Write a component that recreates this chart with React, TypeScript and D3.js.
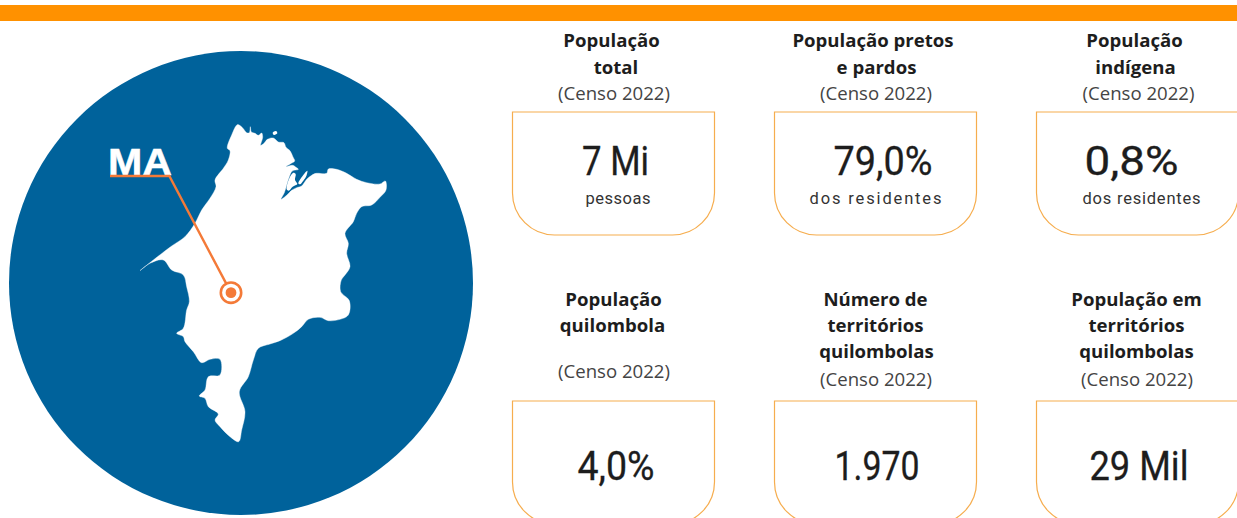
import React from "react";
import * as d3 from "d3";

const W = 1237, H = 518;
const cardTitles = [
  ["População", "total"],
  ["População pretos", "e pardos"],
  ["População", "indígena"],
  ["População", "quilombola"],
  ["Número de", "territórios", "quilombolas"],
  ["População em", "territórios", "quilombolas"],
];
const cardSource = "(Censo 2022)";
const cardValues = ["7 Mi", "79,0%", "0,8%", "4,0%", "1.970", "29 Mil"];
const cardUnits = ["pessoas", "dos residentes", "dos residentes", "", "", ""];
const stateLabel = "MA";

// horizontal nudges of each text line against the card centre
const titleNudge = [[-3, 1.5], [-3.5, 0], [-4, -3], [-1, -2], [-1, -1, 0], [-2, -2, -2]];
const sourceNudge = [-0.5, -0.5, 0, -0.5, -0.5, -1.5];
const valueNudge = [1, 6.5, -7, 1.5, 0.5, 0.5];
const unitNudge = [3.5, -1, 3, 0, 0, 0];
const valueWidths = [67, 99, 94, 77, 85, 99];
const unitWidths = [65, 132, 118, 0, 0, 0];

// Outline of the state in tracing units (0..810 wide, 0..1020 high)
const stateOutline: [number, number][] = [
  [322,44],[332,48],[340,56],[350,68],[358,68],[361,50],[364,66],[375,70],[385,76],[395,69],[398,82],[392,106],[402,100],[412,88],[430,84],[445,96],[462,98],[468,112],[480,122],[489,141],[494,153],[484,160],[468,170],[488,166],[498,172],[505,178],[487,183],[478,200],[470,225],[463,248],[453,268],[470,256],[485,241],[500,233],[515,228],[530,208],[545,196],[558,190],[590,190],[595,177],[620,178],[650,190],[680,208],[710,218],[750,222],[766,213],[768,240],[750,262],[725,285],[695,290],[680,310],[670,335],[645,370],[655,400],[650,430],[660,470],[645,495],[634,510],[632,545],[658,572],[655,615],[630,628],[595,632],[570,622],[535,628],[515,650],[490,670],[450,692],[420,702],[385,715],[370,750],[355,800],[328,845],[345,905],[335,960],[326,995],[300,980],[270,950],[255,930],[265,912],[235,890],[225,865],[208,858],[225,840],[235,800],[270,795],[270,748],[240,748],[215,758],[190,725],[165,695],[160,680],[140,670],[160,655],[170,600],[178,575],[170,530],[160,495],[125,480],[100,450],[60,460],[30,482],[70,450],[125,408],[165,380],[195,340],[215,300],[240,265],[258,230],[255,210],[280,175],[295,150],[300,122],[292,115],[305,75],
];
const bayIslands: [number, number][][] = [
  [[470,238],[478,205],[490,188],[497,192],[495,210],[502,222],[488,230],[476,242]],
  [[505,220],[516,200],[532,182],[529,198],[520,212],[510,223]],
  [[428,68],[438,63],[442,70],[432,75]],
];
// Where the marker sits, in the same tracing units
const markerPoint: [number, number] = [303, 548];
const labelElbow: [number, number] = [118, 198];
const labelStart: [number, number] = [-60, 198];

const x = d3.scaleLinear().domain([0, 810]).range([130, 400]);
const y = d3.scaleLinear().domain([0, 1020]).range([110, 450]);
const line = d3.line<[number, number]>().x((d) => x(d[0])).y((d) => y(d[1]));
const smooth = d3.line<[number, number]>().x((d) => x(d[0])).y((d) => y(d[1])).curve(d3.curveCatmullRomClosed.alpha(0.5));

const col = d3.scaleOrdinal<number, number>().domain([0, 1, 2]).range([512.5, 774.5, 1036.5]);
const CARD_W = 202, CARD_H = 123, R = 42;
const rowBoxTop = [112, 401];
const rowTitleBase = [[47, 74], [306, 332, 358]];
const rowSourceBase = [[100, 100, 100], [378, 386, 386]];
const rowValueBase = [175, 480];
const rowUnitBase = 204;

const cardPath = (px: number, py: number) => {
  const p = d3.path();
  p.moveTo(px, py);
  p.lineTo(px + CARD_W, py);
  p.lineTo(px + CARD_W, py + CARD_H - R);
  p.arcTo(px + CARD_W, py + CARD_H, px + CARD_W - R, py + CARD_H, R);
  p.lineTo(px + R, py + CARD_H);
  p.arcTo(px, py + CARD_H, px, py + CARD_H - R, R);
  p.closePath();
  return p.toString();
};

const BLUE = "#00629b", ORANGE = "#ff9100", ACCENT = "#f47a38", INK = "#1d1d1d";
const SANS = "'Open Sans','Noto Sans',sans-serif";
const DIN = "Roboto,'Noto Sans',sans-serif";

export default function App() {
  const mx = x(markerPoint[0]), my = y(markerPoint[1]);
  return (
    <svg width={W} height={H} viewBox={`0 0 ${W} ${H}`}
      style={{ position: "fixed", left: 0, top: 0, background: "#fff", display: "block" }}>
      <rect x={0} y={5} width={W} height={16} fill={ORANGE} />
      <circle cx={241} cy={283} r={232} fill={BLUE} />
      <path d={smooth(stateOutline)!} fill="#fff" stroke="#fff" strokeWidth={0.4} strokeLinejoin="round" />
      {bayIslands.map((isle, i) => (
        <path key={i} d={smooth(isle)!} fill="#fff" />
      ))}
      <text x={108} y={174.5} fontFamily="Liberation Sans, Arial, sans-serif" fontWeight={700} fontSize={37}
        textLength={64} lengthAdjust="spacingAndGlyphs" fill="#fff" stroke="#fff" strokeWidth={0.5}>{stateLabel}</text>
      <path d={line([labelStart, labelElbow, markerPoint])!} fill="none" stroke={ACCENT} strokeWidth={2.4} />
      <circle cx={mx} cy={my} r={10.2} fill="#fff" stroke={ACCENT} strokeWidth={2.6} />
      <circle cx={mx} cy={my} r={5.4} fill={ACCENT} />
      {cardValues.map((v, i) => {
        const c = i % 3, r = Math.floor(i / 3);
        const left = col(c), cx = left + CARD_W / 2 + 1;
        const title = cardTitles[i];
        return (
          <g key={i} textAnchor="middle">
            <path d={cardPath(left, rowBoxTop[r])} fill="#fff" stroke="#f6ad4e" strokeWidth={1.2} />
            {title.map((t, j) => (
              <text key={j} x={cx + titleNudge[i][j]} y={rowTitleBase[r][j]}
                fontFamily={SANS} fontWeight={700} fontSize={18.6} fill={INK}>{t}</text>
            ))}
            <text x={cx + sourceNudge[i]} y={rowSourceBase[r][c]} fontFamily={SANS} fontSize={18.6} fill="#444">{cardSource}</text>
            <text x={cx + valueNudge[i]} y={rowValueBase[r]} fontFamily={DIN} fontWeight={400} fontSize={40}
              textLength={valueWidths[i]} lengthAdjust="spacingAndGlyphs" fill={INK} stroke={INK} strokeWidth={0.3}>{v}</text>
            {cardUnits[i] && (
              <text x={cx + unitNudge[i]} y={rowUnitBase} fontFamily={DIN} fontSize={16.5}
                textLength={unitWidths[i]} lengthAdjust="spacing" fill="#333">{cardUnits[i]}</text>
            )}
          </g>
        );
      })}
    </svg>
  );
}
